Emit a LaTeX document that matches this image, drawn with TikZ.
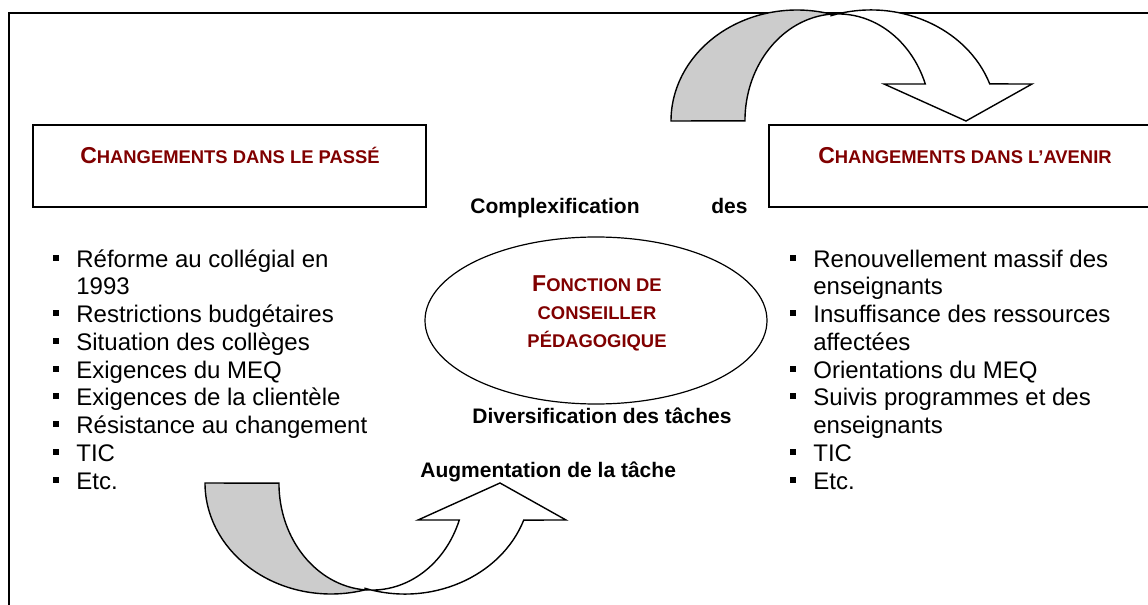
\documentclass[tikz,border=0pt]{standalone}
\usepackage{fontspec}
\setmainfont{Liberation Sans}
\usepackage{xcolor}
\usepackage{tikz}
\usetikzlibrary{shapes.geometric}

\definecolor{bordeaux}{RGB}{128,0,0}
\definecolor{gris}{RGB}{204,204,204}

\newcommand{\pc}[2]{{\fontsize{11.5}{13}\selectfont #1}{\fontsize{9.2}{11}\selectfont #2}}
\newcommand{\fleche}{%
  \draw[fond] (671,121) arc[start angle=180, end angle=74.35, x radius=63pt, y radius=55.5pt]
    arc[start angle=94.3, end angle=180, x radius=46.5pt, y radius=53.5pt] -- cycle;
  \draw[bande] (831,15.7) arc[start angle=108.5, end angle=19.5, x radius=63pt, y radius=55.5pt]
    -- (1032,84) -- (966,121) -- (884,84) -- (925.3,84)
    arc[start angle=20.2, end angle=94.3, x radius=46.5pt, y radius=53.5pt] -- cycle;
}

\tikzset{
  cadre/.style={draw, line width=0.8pt, minimum width=196.5pt, minimum height=41pt, inner sep=0pt},
  titre/.style={text=bordeaux, font=\bfseries, inner sep=0pt, anchor=base},
  etiquette/.style={font=\fontsize{10.5}{12}\selectfont\bfseries, inner sep=0pt, anchor=base},
  ligne/.style={font=\fontsize{12}{13.8}\selectfont, inner sep=0pt, anchor=base west},
  puce/.style={fill, minimum size=3pt, inner sep=0pt},
  fond/.style={fill=gris, draw=black, line width=0.7pt},
  bande/.style={fill=white, draw=black, line width=0.7pt}
}

\begin{document}
\begin{tikzpicture}[x=0.5pt, y=-0.5pt]
                \useasboundingbox (0,0) rectangle (1148,605);
                \draw[line width=1pt] (1148,13) -- (9,13) -- (9,605);

                \fleche
                \begin{scope}[shift={(-466,604)}, yscale=-1]
                    \fleche
                \end{scope}

                \node[cadre] (passe) at (229.5,166) {};
                \node[cadre] (avenir) at (965.5,166) {};
                \node[titre] (tpasse) at (230,163) {\pc{C}{HANGEMENTS DANS LE PASSÉ}};
                \node[titre] (tavenir) at (965,163) {\pc{C}{HANGEMENTS DANS L’AVENIR}};

                \node[draw, ellipse, line width=0.6pt, minimum width=171pt, minimum height=83.5pt, inner sep=0pt] (fonction) at (596,320.5) {};
                \node[titre] (f1) at (597,291) {\pc{F}{ONCTION DE}};
                \node[titre] (f2) at (597,319) {\pc{}{CONSEILLER}};
                \node[titre] (f3) at (597,347) {\pc{}{PÉDAGOGIQUE}};

                \node[etiquette, anchor=base west] (complexe) at (470,213) {Complexification};
                \node[etiquette, anchor=base east] (des) at (748,213) {des};
                \node[etiquette] (diversif) at (602,423) {Diversification des tâches};
                \node[etiquette, anchor=base west] (augment) at (420,477) {Augmentation de la tâche};

                \foreach \i/\t in {0/Réforme au collégial en, 1/1993, 2/Restrictions budgétaires,
                    3/Situation des collèges, 4/Exigences du MEQ, 5/Exigences de la clientèle,
                    6/Résistance au changement, 7/TIC, 8/Etc.}
                    \node[ligne] (lp\i) at (76,{267+27.75*\i}) {\t};
                \foreach \i in {0,2,3,4,5,6,7,8}
                    \node[puce] (pp\i) at (55.5,{257.5+27.75*\i}) {};

                \foreach \i/\t in {0/Renouvellement massif des, 1/enseignants, 2/Insuffisance des ressources,
                    3/affectées, 4/Orientations du MEQ, 5/Suivis programmes et des,
                    6/enseignants, 7/TIC, 8/Etc.}
                    \node[ligne] (la\i) at (813,{267+27.75*\i}) {\t};
                \foreach \i in {0,2,4,5,7,8}
                    \node[puce] (pa\i) at (792.5,{257.5+27.75*\i}) {};
            \end{tikzpicture}
\end{document}
